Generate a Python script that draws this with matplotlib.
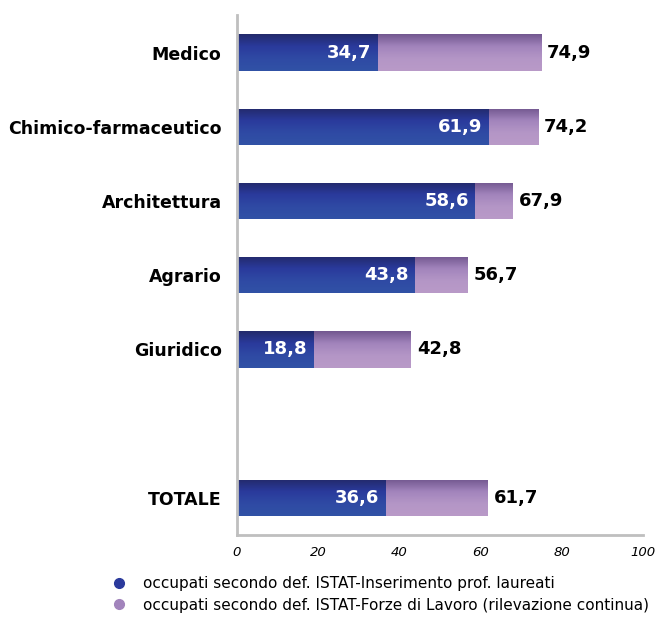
import matplotlib
matplotlib.use("Agg")
import matplotlib.pyplot as plt
import numpy as np
from matplotlib.lines import Line2D
from matplotlib.colors import LinearSegmentedColormap

# dati
categorie = ["Medico", "Chimico-farmaceutico", "Architettura", "Agrario", "Giuridico", "", "TOTALE"]
inserimento = [34.7, 61.9, 58.6, 43.8, 18.8, None, 36.6]
forze_lavoro = [74.9, 74.2, 67.9, 56.7, 42.8, None, 61.7]
serie = ["occupati secondo def. ISTAT-Inserimento prof. laureati",
         "occupati secondo def. ISTAT-Forze di Lavoro (rilevazione continua)"]
xticks = [0, 20, 40, 60, 80, 100]

blu = LinearSegmentedColormap.from_list("blu", ["#232a6c", "#2a3a9c", "#2f4aa4", "#3152a6"])
viola = LinearSegmentedColormap.from_list("viola", ["#735890", "#a284bc", "#b496c6", "#b99ac8"])

fig = plt.figure(figsize=(6.58, 6.17), dpi=100)
ax = fig.add_axes([0.36, 0.133, 0.617, 0.842])

pos = np.arange(len(categorie))
h = 0.49
grad = np.linspace(0, 1, 64).reshape(-1, 1)


def barra_gradiente(y, val, cmap):
    b = ax.barh(y, val, height=h, color="none", edgecolor="none")[0]
    im = ax.imshow(grad, cmap=cmap, aspect="auto",
                   extent=[0, val, y + h / 2, y - h / 2], zorder=2)
    im.set_clip_path(b)


for i in range(len(categorie)):
    if forze_lavoro[i] is None:
        continue
    barra_gradiente(pos[i], forze_lavoro[i], viola)
    barra_gradiente(pos[i], inserimento[i], blu)
    ax.text(inserimento[i] - 1.5, pos[i], f"{inserimento[i]:.1f}".replace(".", ","),
            ha="right", va="center", color="white", fontsize=13, fontweight="bold", zorder=4)
    ax.text(forze_lavoro[i] + 1.5, pos[i], f"{forze_lavoro[i]:.1f}".replace(".", ","),
            ha="left", va="center", color="black", fontsize=13, fontweight="bold", zorder=4)

ax.set_xlim(0, 100)
ax.set_ylim(len(categorie) - 0.5, -0.5)
ax.set_yticks(pos)
ax.set_yticklabels(categorie, fontsize=12.5, fontweight="bold")
ax.set_xticks(xticks)
ax.set_xticklabels([str(t) for t in xticks], fontsize=9.5, style="italic")
ax.tick_params(length=0)
ax.tick_params(axis="x", pad=8)
ax.tick_params(axis="y", pad=11)
for s in ["top", "right"]:
    ax.spines[s].set_visible(False)
for s in ["left", "bottom"]:
    ax.spines[s].set_color("#bfbfbf")
    ax.spines[s].set_linewidth(2)

handles = [Line2D([], [], marker="o", ls="", color="#2b3a9c", markersize=7),
           Line2D([], [], marker="o", ls="", color="#a284bc", markersize=7)]
fig.legend(handles, serie, loc="lower left", bbox_to_anchor=(0.155, -0.008),
           frameon=False, fontsize=11, handletextpad=1.1, labelspacing=0.45,
           borderaxespad=0.2, handlelength=1.0)

fig.savefig("out.png", dpi=100)
